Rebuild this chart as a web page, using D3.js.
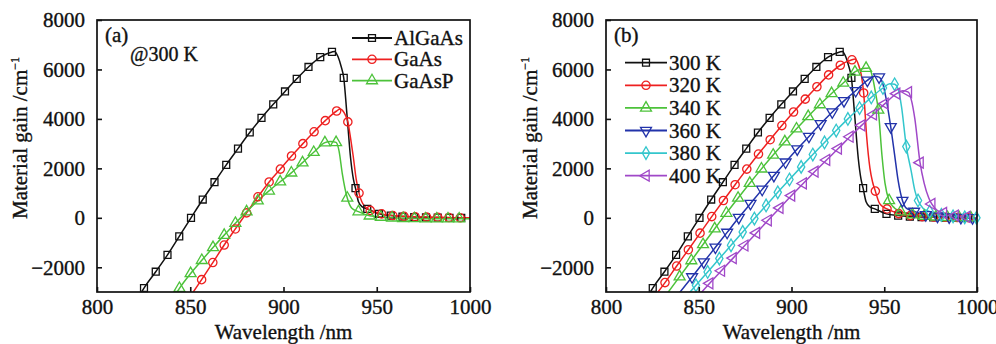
<!DOCTYPE html>
<html><head><meta charset="utf-8">
<script src="https://cdn.jsdelivr.net/npm/d3@7"></script>
<style>
body{margin:0;background:#fff}
svg{display:block}
text{font-family:"Liberation Serif","Times New Roman",serif;fill:#111;stroke:#111;stroke-width:0.35px}
</style>
</head><body>
<svg id="c" width="996" height="344"></svg>
<script>
// ---------- axis ticks ----------
const xTicks = [800, 850, 900, 950, 1000];
const yTicks = [-2000, 0, 2000, 4000, 6000, 8000];
const xDomain = [800, 1000];
const yDomain = [-3000, 8000];

// ---------- panel (a) : materials @300 K ----------
const aNames = ["AlGaAs", "GaAs", "GaAsP"];
// marker points
const wlAlGaAs = [825.2, 831.5, 837.8, 844.1, 850.4, 856.7, 863.0, 869.3, 875.6, 881.9, 888.2, 894.5, 900.8, 907.1, 913.4, 919.7, 926.0, 932.3, 938.6, 944.9, 951.2, 957.5, 963.8, 970.1, 976.4, 982.7, 989.0, 995.3];
const gAlGaAs  = [-2840, -2180, -1500, -750, 0, 740, 1440, 2140, 2800, 3450, 4040, 4590, 5110, 5620, 6100, 6500, 6710, 5660, 1200, 360, 160, 90, 50, 30, 20, 10, 0, 0];
// extra curve points (no marker)
const kwAlGaAs = [823.0, 927.5, 929.3, 930.8, 934.0, 936.0, 937.5, 940.2, 942.3, 1000];
const kgAlGaAs = [-3120, 6730, 6500, 6150, 4200, 2400, 1550, 650, 440, 0];

const wlGaAs = [856.1, 862.1, 868.2, 874.2, 880.2, 886.3, 892.3, 898.3, 904.3, 910.4, 916.4, 922.4, 928.5, 934.5, 940.5, 946.5, 952.6, 958.6, 964.6, 970.6, 976.7, 982.7, 988.7, 994.7];
const gGaAs  = [-2500, -1810, -1100, -450, 200, 850, 1450, 1970, 2500, 3000, 3480, 3930, 4320, 3880, 1000, 300, 160, 90, 60, 40, 30, 20, 10, 0];
const kwGaAs = [850.8, 930.3, 932.5, 936.0, 937.4, 939.0, 942.0, 943.7, 1000];
const kgGaAs = [-3090, 4400, 4250, 3200, 2480, 1550, 650, 460, 0];

const wlGaAsP = [844.2, 850.2, 856.2, 862.2, 868.2, 874.2, 880.2, 886.2, 892.2, 898.2, 904.2, 910.2, 916.2, 922.2, 928.2, 934.2, 940.2, 946.2, 952.2, 958.2, 964.2, 970.2, 976.2, 982.2, 988.2, 994.2];
const gGaAsP  = [-2850, -2250, -1720, -1200, -700, -220, 250, 690, 1090, 1460, 1820, 2230, 2650, 3040, 3050, 800, 250, 80, 30, 0, -20, -30, -40, -40, -40, -40];
const kwGaAsP = [842.5, 925.2, 929.8, 931.5, 936.5, 1000];
const kgGaAsP = [-3050, 3090, 2700, 1800, 400, -40];

// ---------- panel (b) : temperatures ----------
const bNames = ["300 K", "320 K", "340 K", "360 K", "380 K", "400 K"];

const wl320 = [831.8, 838.1, 844.4, 850.7, 857.0, 863.3, 869.6, 875.9, 882.2, 888.5, 894.8, 901.1, 907.4, 913.7, 920.0, 926.3, 932.6, 938.9, 945.2, 951.5, 957.8, 964.1, 970.4, 976.7, 983.0, 989.3, 995.6];
const g320  = [-2620, -1950, -1290, -620, 50, 700, 1340, 1970, 2580, 3160, 3730, 4280, 4800, 5300, 5780, 6170, 6390, 5050, 1080, 360, 170, 90, 50, 30, 20, 10, 0];
const kw320 = [827.4, 934.3, 936.3, 937.7, 940.5, 942.3, 943.7, 947.2, 949.2, 1000];
const kg320 = [-3060, 6420, 6150, 5750, 3300, 2000, 1450, 620, 450, 0];

const wl340 = [839.7, 846.0, 852.3, 858.6, 864.9, 871.2, 877.5, 883.8, 890.1, 896.4, 902.7, 909.0, 915.3, 921.6, 927.9, 934.2, 940.2, 946.8, 952.6, 958.9, 965.2, 971.5, 977.8, 984.1, 990.4, 996.7];
const g340  = [-2380, -1730, -1080, -440, 190, 800, 1400, 1980, 2540, 3080, 3600, 4100, 4580, 5030, 5450, 5900, 6050, 4360, 700, 250, 130, 70, 40, 20, 10, 0];
const kw340 = [833.0, 937.5, 941.8, 943.8, 945.3, 948.8, 950.4, 955.5, 1000];
const kg340 = [-3060, 6020, 6060, 5650, 5050, 2500, 1400, 400, 0];

const wl360 = [846.4, 852.7, 859.0, 865.3, 871.6, 877.9, 884.2, 890.5, 896.8, 903.1, 909.4, 915.7, 922.0, 928.3, 934.6, 940.9, 947.2, 953.5, 959.8, 966.1, 972.4, 978.7, 985.0, 991.3, 997.6];
const g360  = [-2390, -1790, -1190, -590, 10, 580, 1150, 1710, 2250, 2780, 3290, 3800, 4280, 4730, 5140, 5560, 5690, 3680, 700, 260, 120, 60, 30, 10, 0];
const kw360 = [839.2, 944.5, 949.0, 950.8, 955.5, 957.5, 962.0, 1000];
const kg360 = [-3070, 5730, 5480, 4900, 2600, 1500, 380, 0];

const wl380 = [848.5, 854.8, 861.1, 867.4, 873.7, 880.0, 886.3, 892.6, 898.9, 905.2, 911.5, 917.8, 924.1, 930.4, 936.7, 943.0, 949.3, 955.6, 961.9, 968.2, 974.5, 980.8, 987.1, 993.4, 999.7];
const g380  = [-2730, -2190, -1650, -1110, -570, -30, 500, 1030, 1550, 2060, 2560, 3050, 3530, 4000, 4440, 4870, 5250, 5400, 2880, 700, 250, 120, 60, 20, 0];
const kw380 = [844.4, 953.0, 957.5, 959.3, 964.5, 966.5, 971.0, 1000];
const kg380 = [-3080, 5420, 5200, 4500, 1900, 1100, 380, 0];

const wl400 = [855.9, 862.2, 868.5, 874.8, 881.1, 887.4, 893.7, 900.0, 906.3, 912.6, 918.9, 925.2, 931.5, 937.8, 944.1, 950.4, 956.7, 963.0, 969.3, 975.6, 981.9, 988.2, 994.5];
const g400  = [-2650, -2140, -1630, -1120, -610, -100, 400, 900, 1390, 1870, 2340, 2800, 3280, 3740, 4180, 4620, 5020, 5080, 2230, 560, 200, 90, 40];
const kw400 = [851.0, 960.0, 964.5, 966.5, 971.5, 974.0, 978.5, 1000];
const kg400 = [-3050, 5140, 4800, 4000, 1400, 800, 300, 0];

// ---------- styles ----------
const colBlack = "#111111", colRed = "#ee2020", colGreen = "#4cc23a",
      colBlue = "#2233aa", colCyan = "#33c6cc", colPurple = "#a048c8";

const svg = d3.select("#c");

function merge(w, g, kw, kg) {
  const pts = w.map((x, i) => [x, g[i]]).concat(kw.map((x, i) => [x, kg[i]]));
  pts.sort((a, b) => a[0] - b[0]);
  return pts;
}

function symbolPath(kind, size) {
  let t = d3.symbolSquare, rot = 0;
  if (kind === "circle") t = d3.symbolCircle;
  else if (kind === "up") t = d3.symbolTriangle;
  else if (kind === "down") { t = d3.symbolTriangle; rot = 180; }
  else if (kind === "left") { t = d3.symbolTriangle; rot = -90; }
  else if (kind === "diamond") t = d3.symbolDiamond;
  return { d: d3.symbol().type(t).size(size)(), rot };
}
const symSize = { square: 48, circle: 54, up: 52, down: 52, left: 52, diamond: 46 };

function drawPanel(p) {
  const g = svg.append("g");
  const x = d3.scaleLinear().domain(xDomain).range([p.left, p.right]);
  const y = d3.scaleLinear().domain(yDomain).range([p.bottom, p.top]);
  const clipId = "clip" + p.id;
  svg.append("clipPath").attr("id", clipId).append("rect")
    .attr("x", p.left).attr("y", p.top).attr("width", p.right - p.left).attr("height", p.bottom - p.top);

  const line = d3.line().x(d => x(d[0])).y(d => y(d[1])).curve(d3.curveMonotoneX);
  const plot = g.append("g");
  p.series.forEach(s => {
    plot.append("path").attr("clip-path", `url(#${clipId})`)
      .attr("d", line(merge(s.wl, s.g, s.kw, s.kg)))
      .attr("fill", "none").attr("stroke", s.color).attr("stroke-width", 1.5);
  });
  p.series.forEach(s => {
    const sp = symbolPath(s.marker, symSize[s.marker]);
    s.wl.forEach((w, i) => {
      if (w > 1000 || s.g[i] < -3000) return;
      plot.append("path").attr("d", sp.d)
        .attr("transform", `translate(${x(w)},${y(s.g[i])}) rotate(${sp.rot})`)
        .attr("fill", "none").attr("stroke", s.color).attr("stroke-width", 1.3);
    });
  });

  // axes (inward ticks)
  const xa = g.append("g").attr("transform", `translate(0,${p.bottom})`)
    .call(d3.axisBottom(x).tickValues(xTicks).tickSize(-5).tickPadding(10).tickFormat(d3.format("d")));
  const ya = g.append("g").attr("transform", `translate(${p.left},0)`)
    .call(d3.axisLeft(y).tickValues(yTicks).tickSize(-5).tickPadding(12)
      .tickFormat(d => d < 0 ? "\u2212" + Math.abs(d) : String(d)));
  [xa, ya].forEach(a => {
    a.select(".domain").remove();
    a.selectAll("line").attr("stroke", "#111").attr("stroke-width", 1.6);
    a.selectAll("text").attr("font-size", 21).attr("fill", "#111")
      .attr("font-family", '"Liberation Serif",serif');
  });
  xa.selectAll("text").attr("dy", null).attr("y", 22);
  ya.selectAll("text").attr("dy", "0.33em");

  g.append("rect").attr("x", p.left).attr("y", p.top)
    .attr("width", p.right - p.left).attr("height", p.bottom - p.top)
    .attr("fill", "none").attr("stroke", "#111").attr("stroke-width", 1.7);

  // titles
  g.append("text").attr("x", (p.left + p.right) / 2).attr("y", 339)
    .attr("text-anchor", "middle").attr("font-size", 21).text("Wavelength /nm");
  const yt = g.append("text").attr("transform", `translate(${p.ytx},138) rotate(-90)`)
    .attr("text-anchor", "middle").attr("font-size", 21);
  yt.append("tspan").text("Material gain /cm");
  yt.append("tspan").attr("font-size", 12).attr("dy", -8).text("\u22121");

  g.append("text").attr("x", p.left + 8).attr("y", 42).attr("font-size", 21).text(p.tag);
  if (p.note) g.append("text").attr("x", p.left + 33).attr("y", 61).attr("font-size", 20).text(p.note);

  // legend
  p.series.forEach((s, i) => {
    const ly = p.legY + i * p.legDy;
    g.append("line").attr("x1", p.legX).attr("x2", p.legX + p.legW)
      .attr("y1", ly).attr("y2", ly).attr("stroke", s.color).attr("stroke-width", 1.8);
    const sp = symbolPath(s.marker, symSize[s.marker]);
    g.append("path").attr("d", sp.d)
      .attr("transform", `translate(${p.legX + p.legW / 2},${ly}) rotate(${sp.rot})`)
      .attr("fill", "none").attr("stroke", s.color).attr("stroke-width", 1.3);
    g.append("text").attr("x", p.legX + p.legW + 2).attr("y", ly + 7)
      .attr("font-size", 21).text(s.name);
  });
}

drawPanel({
  id: "a", left: 97, right: 470, top: 20, bottom: 292, ytx: 27,
  tag: "(a)", note: "@300 K",
  legX: 352, legW: 40, legY: 38, legDy: 21.3,
  series: [
    { name: aNames[0], wl: wlAlGaAs, g: gAlGaAs, kw: kwAlGaAs, kg: kgAlGaAs, color: colBlack, marker: "square" },
    { name: aNames[1], wl: wlGaAs, g: gGaAs, kw: kwGaAs, kg: kgGaAs, color: colRed, marker: "circle" },
    { name: aNames[2], wl: wlGaAsP, g: gGaAsP, kw: kwGaAsP, kg: kgGaAsP, color: colGreen, marker: "up" }
  ]
});

drawPanel({
  id: "b", left: 606, right: 977, top: 20, bottom: 292, ytx: 537,
  tag: "(b)", note: null,
  legX: 625, legW: 42, legY: 62.7, legDy: 22.6,
  series: [
    { name: bNames[0], wl: wlAlGaAs, g: gAlGaAs, kw: kwAlGaAs, kg: kgAlGaAs, color: colBlack, marker: "square" },
    { name: bNames[1], wl: wl320, g: g320, kw: kw320, kg: kg320, color: colRed, marker: "circle" },
    { name: bNames[2], wl: wl340, g: g340, kw: kw340, kg: kg340, color: colGreen, marker: "up" },
    { name: bNames[3], wl: wl360, g: g360, kw: kw360, kg: kg360, color: colBlue, marker: "down" },
    { name: bNames[4], wl: wl380, g: g380, kw: kw380, kg: kg380, color: colCyan, marker: "diamond" },
    { name: bNames[5], wl: wl400, g: g400, kw: kw400, kg: kg400, color: colPurple, marker: "left" }
  ]
});
</script>
</body></html>
